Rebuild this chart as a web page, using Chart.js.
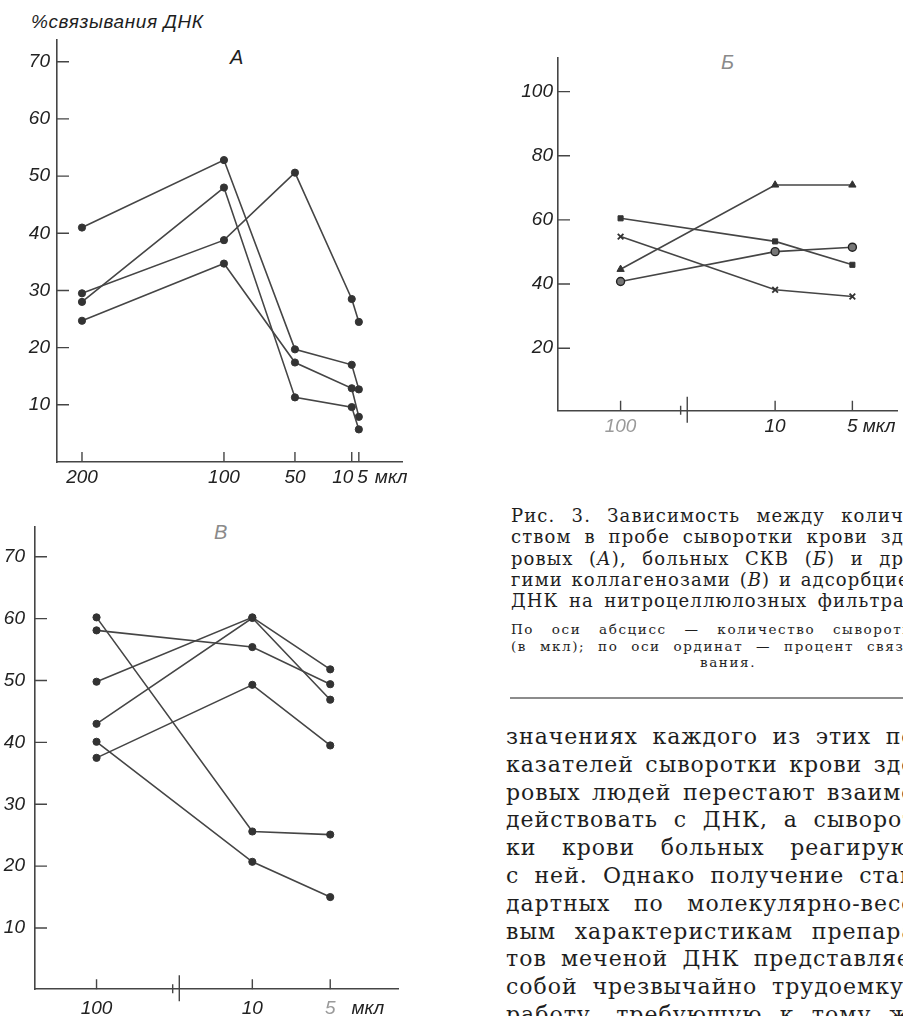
<!DOCTYPE html>
<html lang="ru">
<head>
<meta charset="utf-8">
<title>Рис. 3</title>
<script src="https://cdn.jsdelivr.net/npm/chart.js@4.4.1/dist/chart.umd.min.js"></script>
<style>
    body {
        margin: 0;
        width: 903px;
        height: 1016px;
        overflow: hidden;
        position: relative;
        background: #fff;
        color: #1e1e1e;
        font-family: "DejaVu Serif", "Liberation Serif", serif;
    }
    .abs { position: absolute; }
    .pometka {
        position: absolute;
        font: italic 19px "Liberation Sans", sans-serif;
        letter-spacing: 0.6px;
        white-space: nowrap;
    }
    .bukva {
        position: absolute;
        font: italic 20px "Liberation Sans", sans-serif;
    }
    /* строка набора: слова разгоняются на всю ширину колонки */
    .stroka {
        display: flex;
        justify-content: space-between;
        column-gap: 6px;
        white-space: nowrap;
    }
    .centr { text-align: center; white-space: nowrap; }
    #podpis { left: 511px; top: 505px; width: 412px; font-size: 18px; line-height: 21.3px; letter-spacing: 1.1px; }
    #primech { left: 511px; top: 621px; width: 412px; font-size: 13.5px; line-height: 16.7px; letter-spacing: 1.6px; }
    #primech .centr { width: 434px; }
    #cherta { left: 510px; top: 697px; width: 420px; height: 2px; background: #8c8c8c; }
    #tekst { left: 506px; top: 723px; width: 418px; font-size: 22px; line-height: 27.8px; letter-spacing: 1px; }
    #tekst .stroka { column-gap: 8px; }
</style>
</head>
<body>

<div class="pometka" style="left:31px; top:11px;">%связывания ДНК</div>
<div class="bukva" style="left:230px; top:46px;">А</div>
<div class="abs" style="left:0; top:0;"><canvas id="grafA" width="450" height="500"></canvas></div>

<div class="bukva" style="left:721px; top:51px; color:#8a8a8a;">Б</div>
<div class="abs" style="left:500px; top:40px;"><canvas id="grafB" width="403" height="420"></canvas></div>

<div class="bukva" style="left:214px; top:521px; color:#8a8a8a;">В</div>
<div class="abs" style="left:0; top:505px;"><canvas id="grafV" width="450" height="511"></canvas></div>

<div id="podpis" class="abs">
    <div class="stroka">Рис. 3. Зависимость между количе-</div>
    <div class="stroka">ством в пробе сыворотки крови здо-</div>
    <div class="stroka">ровых (<i>А</i>), больных СКВ (<i>Б</i>) и дру-</div>
    <div class="stroka">гими коллагенозами (<i>В</i>) и адсорбцией</div>
    <div class="stroka">ДНК на нитроцеллюлозных фильтрах.</div>
</div>
<div id="primech" class="abs">
    <div class="stroka">По оси абсцисс — количество сыворотки</div>
    <div class="stroka">(в мкл); по оси ординат — процент связы-</div>
    <div class="centr">вания.</div>
</div>
<div id="cherta" class="abs"></div>

<div id="tekst" class="abs">
    <div class="stroka">значениях каждого из этих по-</div>
    <div class="stroka">казателей сыворотки крови здо-</div>
    <div class="stroka">ровых людей перестают взаимо-</div>
    <div class="stroka">действовать с ДНК, а сыворот-</div>
    <div class="stroka">ки крови больных реагируют</div>
    <div class="stroka">с ней. Однако получение стан-</div>
    <div class="stroka">дартных по молекулярно-весо-</div>
    <div class="stroka">вым характеристикам препара-</div>
    <div class="stroka">тов меченой ДНК представляет</div>
    <div class="stroka">собой чрезвычайно трудоемкую</div>
    <div class="stroka">работу, требующую к тому же</div>
</div>

<script>
// А — сыворотка здоровых доноров, доза в мкл
const dozyA = [200, 100, 50, 10, 5];
const zdorovye1 = [41, 52.8, 19.7, 17, 12.7];
const zdorovye2 = [28, 48, 11.3, 9.6, 5.7];
const zdorovye3 = [29.5, 38.8, 50.6, 28.5, 24.5];
const zdorovye4 = [24.7, 34.7, 17.4, 12.9, 7.9];
const delenijaA = [10, 20, 30, 40, 50, 60, 70];

// Б — больные СКВ
const dozyB = ['100', '10', '5'];
const skvKvadrat = [60.5, 53.3, 46.0];
const skvKrest = [54.8, 38.2, 36.1];
const skvTreugolnik = [44.6, 70.9, 70.9];
const skvKrug = [40.8, 50.1, 51.5];
const delenijaB = [20, 40, 60, 80, 100];

// В — другие коллагенозы
const dozyV = ['100', '10', '5'];
const kollagen1 = [60.2, 25.6, 25.1];
const kollagen2 = [58.1, 55.4, 49.4];
const kollagen3 = [49.8, 60.2, 51.8];
const kollagen4 = [43.0, 60.1, 46.9];
const kollagen5 = [37.5, 49.3, 39.5];
const kollagen6 = [40.1, 20.7, 15.0];
const delenijaV = [10, 20, 30, 40, 50, 60, 70];

const CVET_LINII = '#454545';
const CVET_TEKSTA = '#222';
const SHRIFT = '"Liberation Sans", sans-serif';

// слова строки — в отдельные span, чтобы flex разогнал их по ширине
document.querySelectorAll('.stroka').forEach(el => {
    el.innerHTML = el.innerHTML.trim().split(/\s+/).map(w => '<span>' + w + '</span>').join('');
});

// между 100 и 10 мкл ось разорвана: разрыв занимает один шаг
const mesto = i => (i === 0 ? 0 : i + 1);

// засечки внутрь поля, разрыв оси и подписи оси абсцисс
const osi = {
    id: 'osi',
    afterDraw(chart, args, o) {
        const { ctx, chartArea: a, scales: { x, y } } = chart;
        ctx.save();
        ctx.strokeStyle = CVET_LINII;
        ctx.lineWidth = 1.4;
        ctx.beginPath();
        y.ticks.forEach(t => {
            const py = y.getPixelForValue(t.value);
            ctx.moveTo(a.left, py);
            ctx.lineTo(a.left + 12, py);
        });
        x.ticks.forEach(t => {
            const px = x.getPixelForValue(t.value);
            ctx.moveTo(px, a.bottom);
            ctx.lineTo(px, a.bottom - 10);
        });
        ctx.stroke();

        if (o.razryv !== undefined) {
            const px = x.getPixelForValue(o.razryv);
            ctx.beginPath();
            ctx.moveTo(px - 3.3, a.bottom - 5);
            ctx.lineTo(px - 3.3, a.bottom + 4);
            ctx.moveTo(px + 3.3, a.bottom - 14);
            ctx.lineTo(px + 3.3, a.bottom + 12);
            ctx.stroke();
        }

        ctx.font = 'italic 19px ' + SHRIFT;
        ctx.textBaseline = 'middle';
        const ly = a.bottom + o.otstup;
        const pos = x.ticks.map(t => x.getPixelForValue(t.value));
        let konec = 0;
        x.ticks.forEach((t, i) => {
            const txt = o.podpis(t.value);
            const w = ctx.measureText(txt).width;
            const px = pos[i];
            ctx.fillStyle = (o.cveta && o.cveta[i]) || CVET_TEKSTA;
            // соседние дозы стоят тесно — подписи разводим в стороны
            if (i + 1 < pos.length && Math.abs(pos[i + 1] - px) < 20) {
                const m = (px + pos[i + 1]) / 2 - 2;
                ctx.textAlign = 'right';
                ctx.fillText(txt, m, ly);
                konec = m;
            } else if (i > 0 && Math.abs(px - pos[i - 1]) < 20) {
                const m = (px + pos[i - 1]) / 2 + 2;
                ctx.textAlign = 'left';
                ctx.fillText(txt, m, ly);
                konec = m + w;
            } else {
                ctx.textAlign = 'center';
                ctx.fillText(txt, px, ly);
                konec = px + w / 2;
            }
        });
        ctx.fillStyle = CVET_TEKSTA;
        ctx.textAlign = 'left';
        ctx.fillText('мкл', konec + o.zazor, ly);
        ctx.restore();
    }
};

function seriya(tochki, stil) {
    return Object.assign({
        data: tochki,
        borderColor: CVET_LINII,
        borderWidth: 1.6,
        pointRadius: 3.6,
        pointBackgroundColor: '#333',
        pointBorderColor: '#333',
        pointBorderWidth: 1,
        tension: 0,
        clip: false
    }, stil || {});
}

function narisovat(id, nabory, p) {
    return new Chart(document.getElementById(id), {
        type: 'line',
        data: { datasets: nabory },
        plugins: [osi],
        options: {
            responsive: false,
            animation: false,
            events: [],
            layout: { padding: p.padding },
            plugins: {
                legend: { display: false },
                tooltip: { enabled: false },
                osi: p.osi
            },
            scales: {
                x: {
                    type: 'linear',
                    min: p.xMin,
                    max: p.xMax,
                    reverse: !!p.reverse,
                    afterBuildTicks: s => { s.ticks = p.xTiki.map(v => ({ value: v })); },
                    afterFit: s => { s.height = p.xVysota; },
                    grid: { display: false, drawTicks: false },
                    border: { display: true, color: CVET_LINII, width: 1.6 },
                    ticks: { display: false }
                },
                y: {
                    min: p.yMin,
                    max: p.yMax,
                    afterBuildTicks: s => { s.ticks = p.yTiki.map(v => ({ value: v })); },
                    afterFit: s => { s.width = p.yShirina; },
                    grid: { display: false, drawTicks: false },
                    border: { display: true, color: CVET_LINII, width: 1.6 },
                    ticks: {
                        padding: p.yOtstup,
                        color: CVET_TEKSTA,
                        font: { family: SHRIFT, size: 19, style: 'italic' }
                    }
                }
            }
        }
    });
}

const tochkiA = ryad => dozyA.map((d, i) => ({ x: d, y: ryad[i] }));
const tochkiSlot = ryad => ryad.map((v, i) => ({ x: mesto(i), y: v }));

narisovat('grafA', [
    seriya(tochkiA(zdorovye1)),
    seriya(tochkiA(zdorovye2)),
    seriya(tochkiA(zdorovye3)),
    seriya(tochkiA(zdorovye4))
], {
    padding: { top: 40, right: 48, left: 0, bottom: 0 },
    xMin: -25.4, xMax: 217.6, reverse: true, xTiki: dozyA, xVysota: 38,
    yMin: 0, yMax: 73.8, yTiki: delenijaA, yShirina: 57, yOtstup: 7,
    osi: { otstup: 16, zazor: 7, podpis: v => String(v) }
});

narisovat('grafB', [
    seriya(tochkiSlot(skvKvadrat), { pointStyle: 'rect', pointRadius: 3.6 }),
    seriya(tochkiSlot(skvKrest), { pointStyle: 'crossRot', pointRadius: 4, pointBorderWidth: 1.8 }),
    seriya(tochkiSlot(skvTreugolnik), { pointStyle: 'triangle', pointRadius: 4.2 }),
    seriya(tochkiSlot(skvKrug), { pointStyle: 'circle', pointRadius: 4, pointBackgroundColor: '#777', pointBorderColor: '#222', pointBorderWidth: 1.4 })
], {
    padding: { top: 18, right: 0, left: 0, bottom: 0 },
    xMin: -0.81, xMax: 3.58, xTiki: dozyB.map((d, i) => mesto(i)), xVysota: 49.3,
    yMin: 0.5, yMax: 110.5, yTiki: delenijaB, yShirina: 58, yOtstup: 5,
    osi: {
        otstup: 16, zazor: 5, razryv: 0.82,
        cveta: ['#9a9a9a', CVET_TEKSTA, CVET_TEKSTA],
        podpis: v => dozyB[v === 0 ? 0 : v - 1]
    }
});

narisovat('grafV', [
    seriya(tochkiSlot(kollagen1)),
    seriya(tochkiSlot(kollagen2)),
    seriya(tochkiSlot(kollagen3)),
    seriya(tochkiSlot(kollagen4)),
    seriya(tochkiSlot(kollagen5)),
    seriya(tochkiSlot(kollagen6))
], {
    padding: { top: 18, right: 52, left: 0, bottom: 0 },
    xMin: -0.79, xMax: 3.87, xTiki: dozyV.map((d, i) => mesto(i)), xVysota: 26.7,
    yMin: 0.1, yMax: 74.9, yTiki: delenijaV, yShirina: 35, yOtstup: 10,
    osi: {
        otstup: 19, zazor: 16, razryv: 1.02,
        cveta: [CVET_TEKSTA, CVET_TEKSTA, '#9a9a9a'],
        podpis: v => dozyV[v === 0 ? 0 : v - 1]
    }
});
</script>
</body>
</html>
